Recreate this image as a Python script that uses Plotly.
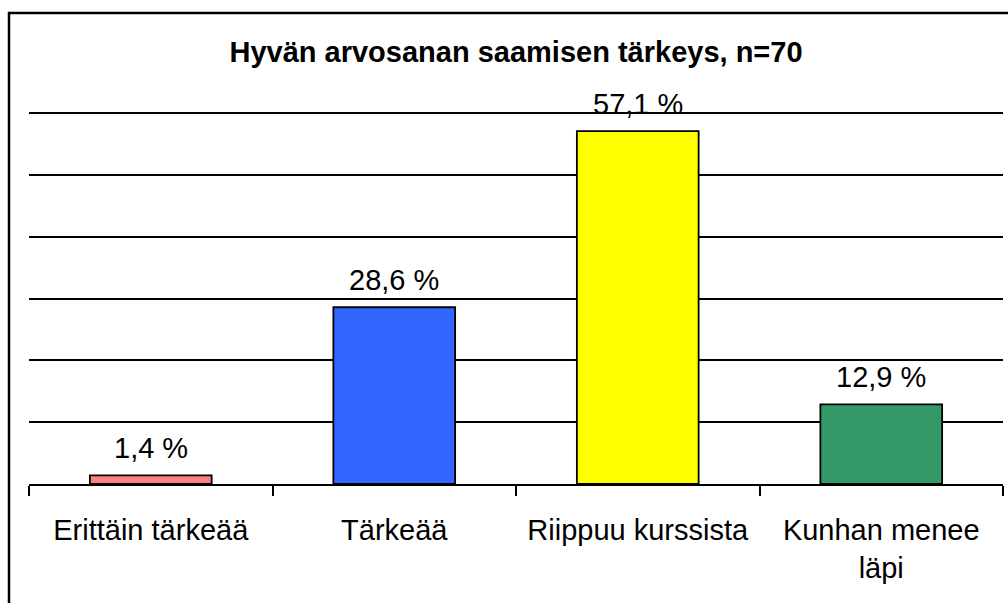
import plotly.graph_objects as go

categories = ["Erittäin tärkeää", "Tärkeää", "Riippuu kurssista", "Kunhan menee<br>läpi"]
values = [1.4, 28.6, 57.1, 12.9]
colors = ["#FF7F7F", "#3366FF", "#FFFF00", "#339966"]
title = "Hyvän arvosanan saamisen tärkeys, n=70"

labels = [f"{v:.1f} %".replace(".", ",") for v in values]
FONT = "Liberation Sans, Arial, sans-serif"

fig = go.Figure(go.Bar(
    x=categories, y=values,
    marker=dict(color=colors, line=dict(color="black", width=1.8)),
    width=0.5, hoverinfo="x+y",
))

for c, v, t in zip(categories, values, labels):
    fig.add_annotation(x=c, y=v, text=t, showarrow=False, yanchor="bottom",
                       yshift=9, font=dict(size=29, family=FONT, color="black"))

fig.update_layout(
    width=1008, height=603,
    margin=dict(l=29, r=5, t=112, b=119),
    paper_bgcolor="white", plot_bgcolor="white",
    showlegend=False,
    font=dict(family=FONT, color="black"),
    title=dict(text="<b>" + title + "</b>", x=516 / 1008, xanchor="center",
               y=1 - 52 / 603, yanchor="middle",
               font=dict(size=29, family=FONT, color="black")),
    bargap=0.5,
)
fig.update_xaxes(
    type="category", tickson="boundaries", ticks="outside", ticklen=10,
    tickwidth=2, tickcolor="black", showline=True, linecolor="black",
    linewidth=2, showgrid=False, ticklabelstandoff=19,
    tickfont=dict(size=29, family=FONT, color="black"),
)
fig.update_yaxes(
    range=[0, 60.2], tickvals=[10, 20, 30, 40, 50, 60], showgrid=True,
    gridcolor="black", gridwidth=2,
    showticklabels=False, zeroline=False, showline=False, ticks="",
)
fig.add_shape(type="rect", xref="paper", yref="paper",
              x0=(9 - 29) / 974, x1=(1015 - 29) / 974,
              y0=-0.5, y1=(484 - 13) / 372,
              line=dict(color="black", width=2.5), fillcolor="rgba(0,0,0,0)",
              layer="above")

fig.write_html("out.html", config={"displayModeBar": False},
               post_script="document.body.style.margin='0';")
